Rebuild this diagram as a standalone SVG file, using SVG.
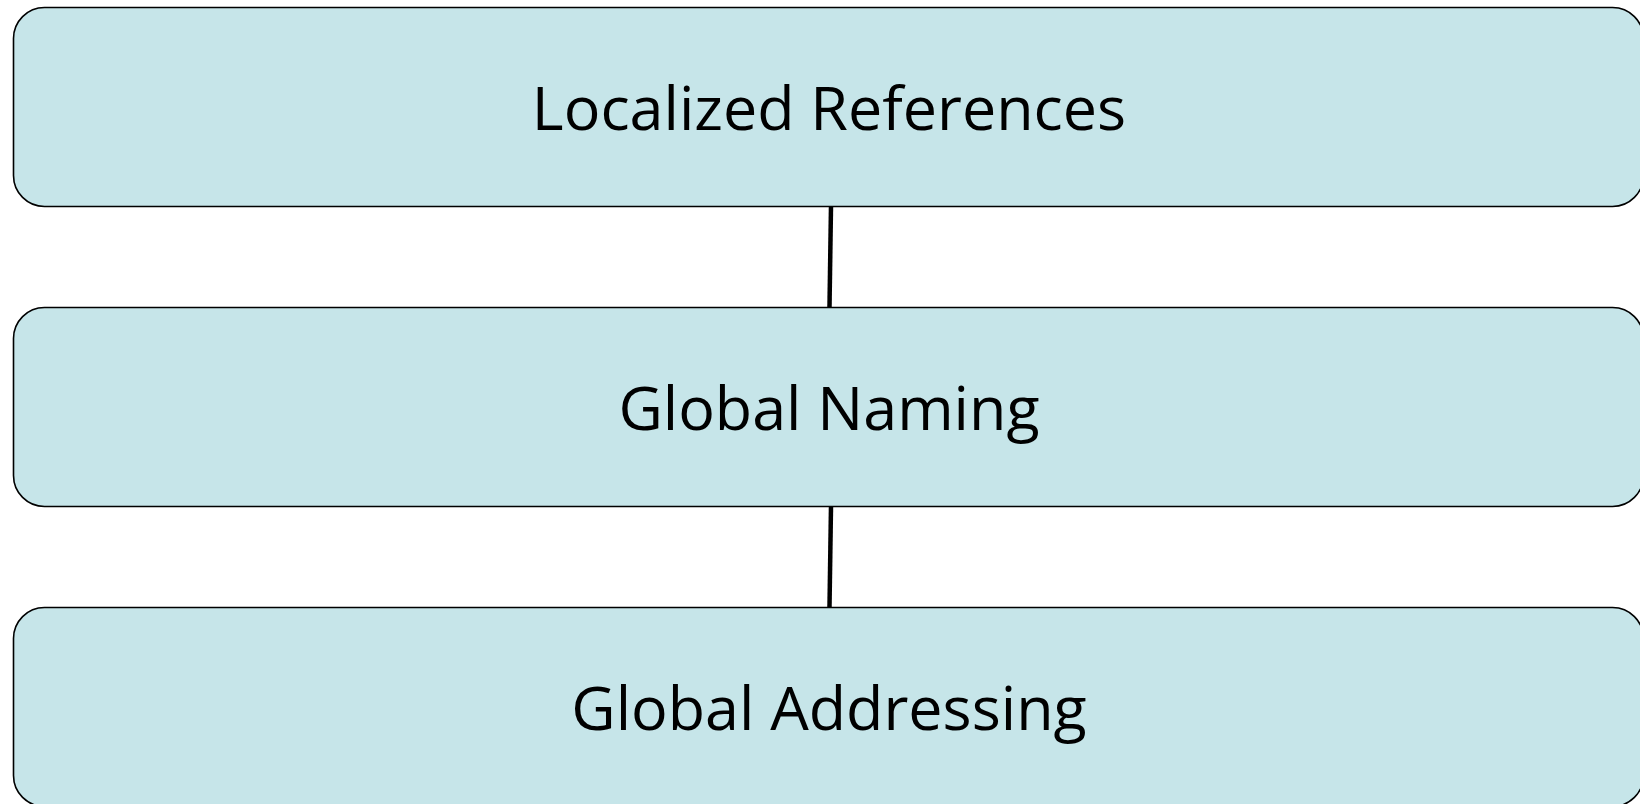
<svg xmlns="http://www.w3.org/2000/svg" width="1640" height="804" viewBox="0 0 1640 804">
<style>
.box{fill:#c6e5e9;stroke:#000;stroke-width:1.6}
.lbl{font-family:"Open Sans","Liberation Sans",sans-serif;font-size:61px;fill:#000;text-anchor:middle}
.conn{stroke:#000;stroke-width:4.5;fill:none}
</style>
<rect width="1640" height="804" fill="#fff"/>
<g id="connectors">
<line class="conn" x1="831" y1="206" x2="829.5" y2="307"/>
<line class="conn" x1="831" y1="506" x2="829.5" y2="607"/>
</g>
<g id="localized-references">
<rect class="box" x="13.5" y="7.5" width="1630" height="199" rx="31" ry="31"/>
<text class="lbl" x="829" y="130">Localized References</text>
</g>
<g id="global-naming">
<rect class="box" x="13.5" y="307.5" width="1630" height="199" rx="31" ry="31"/>
<text class="lbl" x="829" y="430">Global Naming</text>
</g>
<g id="global-addressing">
<rect class="box" x="13.5" y="607.5" width="1630" height="199" rx="31" ry="31"/>
<text class="lbl" x="829" y="730">Global Addressing</text>
</g>
</svg>
